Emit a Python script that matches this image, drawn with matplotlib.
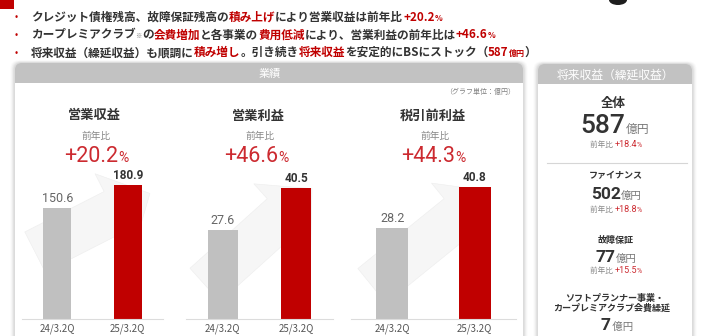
import matplotlib
matplotlib.use("Agg")
import matplotlib.pyplot as plt
import numpy as np
from matplotlib.patches import FancyBboxPatch, Rectangle, FancyArrow, Ellipse

plt.rcParams['font.family'] = ['Noto Sans CJK JP', 'DejaVu Sans']

# --- data ---
periods = ['24/3.2Q', '25/3.2Q']
metric_names = ['営業収益', '営業利益', '税引前利益']
prev_values = [150.6, 27.6, 28.2]
curr_values = [180.9, 40.5, 40.8]
yoy_pct = ['+20.2', '+46.6', '+44.3']

deferred_names = ['全体', 'ファイナンス', '故障保証']
deferred_values = [587, 502, 77]
deferred_yoy = ['+18.4', '+18.8', '+15.5']
other_name = ['ソフトプランナー事業・', 'カープレミアクラブ会費繰延']
other_value = 7

RED = '#c00000'
PCT_RED = '#cc2a30'
DARK = '#333333'
GREY_BAR = '#c0c0c0'
HEADER = '#c2c2c2'

W, H = 702, 336
fig = plt.figure(figsize=(W / 100, H / 100), dpi=100)
bg = fig.add_axes([0, 0, 1, 1])
bg.set_xlim(0, W)
bg.set_ylim(H, 0)
bg.axis('off')
renderer = fig.canvas.get_renderer()


def rich(x, y, runs, align='left'):
    """Draw text runs one after another on a shared baseline."""
    objs = [bg.text(0, y, s, va='baseline', ha='left', **kw) for s, kw in runs]
    widths = [o.get_window_extent(renderer).width for o in objs]
    total = sum(widths)
    cur = {'left': x, 'center': x - total / 2, 'right': x - total}[align]
    for o, w in zip(objs, widths):
        o.set_x(cur)
        cur += w


def panel(x0, x1, y0, y1, title, tx, fs):
    # soft shadow
    for i, a in enumerate([0.05, 0.04, 0.03, 0.02]):
        d = i + 1.5
        bg.add_patch(FancyBboxPatch((x0 - d, y0 - d * 0.6), x1 - x0 + 2 * d, y1 - y0 + 2 * d,
                                    boxstyle='round,pad=0,rounding_size=8',
                                    fc='#000000', ec='none', alpha=a, zorder=1))
    bg.add_patch(FancyBboxPatch((x0, y0), x1 - x0, 30, boxstyle='round,pad=0,rounding_size=7',
                                fc=HEADER, ec='none', zorder=2))
    bg.add_patch(Rectangle((x0, y0 + 20), x1 - x0, y1 - y0 - 20, fc='white', ec='none', zorder=2))
    bg.text(tx, y0 + 11, title, color='white', fontsize=fs, ha='center', va='center',
            zorder=3)


# corner marks
bg.add_patch(Rectangle((0, 0), 14, 9, fc=RED, ec='none'))
bg.add_patch(Ellipse((618, 0), 18, 10, fc='#1e1e1e', ec='none'))

# --- bullet lines ---
n = dict(color=DARK, fontsize=8.4, fontweight='bold')
r = dict(color=RED, fontsize=8.4, fontweight='bold')
rs = dict(color=RED, fontsize=5.8, fontweight='bold')
ns = dict(color='#777777', fontsize=4.5)
lines = [
    [('クレジット債権残高、故障保証残高の', n), ('積み上げ', r), ('により営業収益は前年比', n),
     ('+20.2', r), ('%', rs)],
    [('カープレミアクラブ', n), ('※', ns), ('の', n), ('会費増加', r), ('と各事業の', n),
     ('費用低減', r), ('により、営業利益の前年比は', n), ('+46.6', r), ('%', rs)],
    [('将来収益（繰延収益）も順調に', n), ('積み増し', r), ('。引き続き', n), ('将来収益', r),
     ('を安定的にBSにストック（', n), ('587', r), ('億円', rs), ('）', n)],
]
for i, runs in enumerate(lines):
    yb = 21 + i * 17.5
    bg.text(16, yb - 3.5, '•', color=RED, fontsize=7, ha='center', va='center')
    rich(31, yb, runs)

# --- panels ---
panel(15, 523, 63, 345, '業績', 270, 8)
panel(538, 692, 64, 345, '将来収益（繰延収益）', 615, 8.5)
bg.text(515, 92, '（グラフ単位：億円）', color='#808080', fontsize=5, ha='right', va='center', zorder=3)

# --- bar charts ---
# pixel layout of each chart: x-left, x-right, pixels per unit
chart_px = [(22, 163, 0.74), (186, 333, 3.23), (351, 516, 3.24)]
bar_widths = [0.4, 0.41, 0.39]
title_x = [94, 258, 433]
pct_split = [118, 278, 455]
# arrow: tail centre x, tail centre y, angle (deg), length
arrows = [(35, 252, 27, 129), (205, 285, 42, 144), (372, 286, 39, 151)]
base_y, top_y = 319, 150

for k in range(3):
    ax0, ax1, ppu = chart_px[k]

    tx, ty, ang, length = arrows[k]
    a = np.radians(ang)
    bg.add_patch(FancyArrow(tx, ty, length * np.cos(a), -length * np.sin(a), width=45,
                            head_width=85, head_length=40, length_includes_head=True,
                            fc='#f6f6f6', ec='#ededed', lw=0.4, zorder=2.5))

    ax = fig.add_axes([ax0 / W, (H - base_y) / H, (ax1 - ax0) / W, (base_y - top_y) / H])
    ax.set_facecolor('none')
    vals = [prev_values[k], curr_values[k]]
    ax.bar([0, 1], vals, width=bar_widths[k], color=[GREY_BAR, RED])
    ax.set_xlim(-0.5, 1.5)
    ax.set_ylim(0, (base_y - top_y) / ppu)
    ax.set_yticks([])
    ax.set_xticks([0, 1], periods)
    ax.tick_params(axis='x', length=0, pad=3, labelsize=7, labelcolor='#555555')
    for s in ['top', 'left', 'right']:
        ax.spines[s].set_visible(False)
    ax.spines['bottom'].set_color('#dcdcdc')
    ax.spines['bottom'].set_linewidth(0.8)

    ax.annotate(f'{vals[0]:.1f}', (0, vals[0]), xytext=(0, 2), textcoords='offset points',
                ha='center', va='bottom', fontsize=9, color='#666666', family='Roboto')
    ax.annotate(f'{vals[1]:.1f}', (1, vals[1]), xytext=(0, 2), textcoords='offset points',
                ha='center', va='bottom', fontsize=8.5, color=DARK, fontweight='bold',
                family='Roboto')

    bg.text(title_x[k], 115.5, metric_names[k], fontsize=9.5, fontweight='bold', color=DARK,
            ha='center', va='center', zorder=3)
    bg.text(title_x[k] + 2, 136, '前年比', fontsize=7, color='#888888', ha='center',
            va='center', zorder=3)
    bg.text(pct_split[k], 162, yoy_pct[k], fontsize=15.5, color=PCT_RED, family='Roboto',
            ha='right', va='baseline', zorder=3)
    bg.text(pct_split[k] + 0.5, 162, '%', fontsize=10, color=PCT_RED, family='Roboto',
            ha='left', va='baseline', zorder=3)

# --- deferred revenue panel ---
cx = 615
g = dict(color='#888888', fontsize=5.5)
pr = dict(color=PCT_RED, fontsize=6.5, family='Roboto')
prs = dict(color=PCT_RED, fontsize=5, family='Roboto')
unit = dict(color='#777777', fontsize=8.5)

bg.text(cx - 2, 103, deferred_names[0], fontsize=9, fontweight='bold', color=DARK,
        ha='center', va='center', zorder=3)
rich(cx, 133, [(str(deferred_values[0]), dict(color=DARK, fontsize=19, family='Roboto',
                                              fontweight='medium')), ('億円', unit)], 'center')
rich(cx + 1, 147, [('前年比 ', g), (deferred_yoy[0], pr), ('%', prs)], 'center')
bg.plot([547, 687], [163, 163], color='#d6d6d6', lw=0.8, zorder=3)

sub_y = [(176, 199, 212), (240, 262, 273)]
for j, (yn, yv, yp) in enumerate(sub_y):
    bg.text(cx + 1, yn, deferred_names[j + 1], fontsize=6.5, fontweight='bold', color=DARK,
            ha='center', va='center', zorder=3)
    rich(cx + 1, yv, [(str(deferred_values[j + 1]), dict(color=DARK, fontsize=12.5,
                                                         family='Roboto', fontweight='bold')),
                      ('億円', dict(color='#777777', fontsize=7.5))], 'center')
    rich(cx + 1, yp, [('前年比 ', g), (deferred_yoy[j + 1], pr), ('%', prs)], 'center')

bg.text(cx, 298, other_name[0], fontsize=6.5, fontweight='bold', color=DARK,
        ha='center', va='center', zorder=3)
bg.text(cx - 3, 308.5, other_name[1], fontsize=6.5, fontweight='bold', color=DARK,
        ha='center', va='center', zorder=3)
rich(cx + 2, 330, [(str(other_value), dict(color=DARK, fontsize=12.5, family='Roboto',
                                           fontweight='bold')),
                   (' 億円', dict(color='#777777', fontsize=7.5))], 'center')

fig.savefig('out.png', dpi=100)
